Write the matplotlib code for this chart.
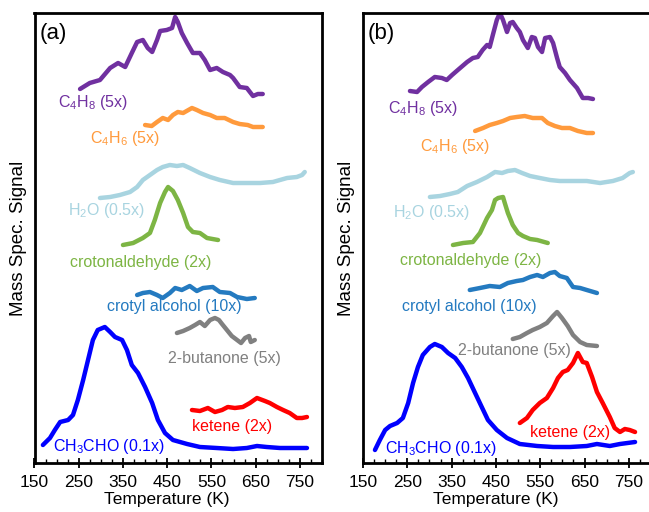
import matplotlib
matplotlib.use("Agg")
import matplotlib.pyplot as plt
from matplotlib.ticker import MultipleLocator

plt.rcParams['font.family'] = ['Liberation Sans', 'DejaVu Sans']
plt.rcParams['mathtext.fontset'] = 'custom'
plt.rcParams['mathtext.rm'] = 'Liberation Sans'

x_ticks = [150, 250, 350, 450, 550, 650, 750]

# ---- panel (a) : temperature (K) / signal (arb. units, offset) ----
a_c4h8_T = [253, 275, 298, 321, 339, 355, 370, 382, 395, 406, 416, 427, 434, 449, 461, 468, 474, 483,
            495, 508, 524, 535, 547, 562, 576, 592, 599, 614, 630, 644, 655, 666]
a_c4h8_s = [374, 380, 383, 395, 400, 396, 410, 421, 423, 415, 411, 423, 432, 433, 435, 446, 441, 430,
            420, 410, 410, 403, 393, 395, 391, 388, 385, 376, 375, 367, 369, 369]
a_c4h6_T = [400, 415, 427, 440, 452, 463, 474, 486, 506, 517, 531, 547, 562, 580, 599, 614, 632, 644, 666]
a_c4h6_s = [338, 337, 341, 345, 343, 348, 351, 350, 355, 353, 350, 348, 345, 345, 341, 339, 338, 336, 336]
a_h2o_T = [298, 321, 343, 366, 382, 395, 411, 427, 440, 456, 472, 486, 501, 524, 547, 569, 599, 630,
           660, 689, 721, 743, 755, 761]
a_h2o_s = [265, 266, 268, 271, 276, 283, 288, 293, 296, 298, 297, 298, 295, 290, 286, 283, 280, 280,
           280, 281, 285, 286, 288, 291]
a_croton_T = [350, 373, 395, 411, 422, 434, 445, 452, 463, 474, 486, 497, 508, 524, 540, 565]
a_croton_s = [218, 220, 225, 230, 243, 260, 271, 276, 272, 263, 250, 236, 231, 230, 225, 223]
a_crotyl_T = [382, 395, 411, 427, 440, 456, 468, 483, 501, 517, 531, 553, 569, 592, 608, 630, 648]
a_crotyl_s = [168, 170, 171, 168, 165, 170, 175, 173, 177, 172, 175, 176, 171, 170, 166, 164, 165]
a_buta_T = [472, 486, 501, 513, 524, 535, 547, 558, 567, 574, 585, 596, 608, 617, 626, 635, 639, 648]
a_buta_s = [130, 132, 135, 138, 141, 137, 143, 145, 143, 139, 133, 127, 123, 120, 125, 127, 121, 123]
a_ketene_T = [506, 524, 542, 558, 574, 587, 603, 621, 637, 653, 671, 682, 698, 712, 727, 743, 755, 766]
a_ketene_s = [53, 52, 55, 51, 53, 56, 55, 56, 60, 65, 62, 60, 56, 53, 50, 45, 45, 46]
a_ach_T = [169, 185, 196, 208, 226, 237, 248, 260, 271, 282, 293, 309, 321, 332, 348, 359, 370, 384,
           400, 416, 429, 445, 463, 495, 524, 562, 599, 630, 653, 675, 705, 734, 766]
a_ach_s = [18, 25, 33, 41, 43, 48, 63, 83, 103, 123, 133, 136, 131, 126, 123, 113, 98, 90,
           76, 60, 43, 30, 23, 19, 16, 15, 14, 15, 17, 16, 15, 15, 15]

# ---- panel (b) ----
b_c4h8_T = [256, 272, 283, 297, 312, 328, 339, 351, 364, 385, 398, 409, 420, 430, 436, 443, 452, 459,
            466, 475, 482, 488, 497, 504, 511, 522, 531, 538, 545, 554, 561, 572, 579, 588, 594, 606,
            617, 633, 646, 658, 669]
b_c4h8_s = [372, 371, 376, 381, 386, 385, 383, 388, 393, 401, 405, 406, 413, 418, 416, 428, 443, 450,
            443, 431, 440, 441, 435, 431, 423, 415, 426, 425, 416, 411, 425, 426, 420, 405, 396, 390,
            383, 375, 365, 365, 364]
b_c4h6_T = [403, 421, 436, 452, 466, 482, 497, 515, 533, 554, 567, 583, 599, 617, 635, 655, 669]
b_c4h6_s = [332, 335, 338, 340, 342, 345, 346, 347, 345, 345, 340, 337, 335, 335, 332, 330, 330]
b_h2o_T = [301, 324, 346, 364, 385, 407, 430, 448, 464, 477, 493, 509, 527, 549, 572, 594, 624, 655,
           685, 714, 736, 752, 759]
b_h2o_s = [266, 267, 269, 271, 277, 281, 286, 291, 290, 292, 293, 290, 287, 285, 283, 282, 282, 282,
           280, 282, 285, 290, 291]
b_croton_T = [353, 376, 398, 414, 430, 441, 448, 455, 466, 470, 477, 488, 500, 511, 527, 543, 567]
b_croton_s = [218, 220, 221, 230, 245, 253, 263, 265, 266, 260, 250, 238, 230, 227, 224, 223, 220]
b_crotyl_T = [391, 414, 436, 459, 477, 497, 511, 527, 543, 556, 572, 583, 594, 610, 624, 640, 655, 678]
b_crotyl_s = [173, 175, 177, 176, 180, 182, 183, 186, 188, 186, 190, 191, 187, 185, 176, 175, 173, 170]
b_buta_T = [488, 504, 520, 533, 549, 565, 579, 588, 599, 612, 624, 640, 655, 678]
b_buta_s = [124, 126, 130, 133, 136, 140, 147, 151, 145, 137, 128, 121, 118, 117]
b_ketene_T = [504, 520, 533, 549, 565, 579, 590, 601, 612, 624, 635, 646, 655, 667, 678, 691, 707, 718,
              730, 741, 752, 764]
b_ketene_s = [40, 45, 53, 60, 65, 75, 85, 91, 93, 100, 110, 101, 100, 86, 71, 60, 46, 35,
              31, 34, 33, 31]
b_ach_T = [177, 188, 200, 211, 227, 240, 252, 263, 274, 285, 301, 312, 328, 342, 358, 373, 387, 403,
           418, 432, 452, 475, 504, 543, 579, 617, 655, 678, 707, 730, 764]
b_ach_s = [13, 23, 33, 37, 40, 45, 60, 80, 96, 108, 116, 119, 116, 110, 105, 96, 85, 70,
           56, 43, 33, 25, 19, 17, 16, 16, 17, 19, 17, 19, 21]

colors = {'c4h8': '#7030A0', 'c4h6': '#FF9A3C', 'h2o': '#A8D4E0', 'croton': '#7DB544',
          'crotyl': '#247AC0', 'buta': '#808080', 'ketene': '#FF0000', 'ach': '#0000FF'}
names = {'c4h8': r'C$_\mathregular{4}$H$_\mathregular{8}$ (5x)',
         'c4h6': r'C$_\mathregular{4}$H$_\mathregular{6}$ (5x)',
         'h2o': r'H$_\mathregular{2}$O (0.5x)',
         'croton': 'crotonaldehyde (2x)',
         'crotyl': 'crotyl alcohol (10x)',
         'buta': '2-butanone (5x)',
         'ketene': 'ketene (2x)',
         'ach': r'CH$_\mathregular{3}$CHO (0.1x)'}

panels = [
    ('(a)', {'c4h8': (a_c4h8_T, a_c4h8_s), 'c4h6': (a_c4h6_T, a_c4h6_s), 'h2o': (a_h2o_T, a_h2o_s),
             'croton': (a_croton_T, a_croton_s), 'crotyl': (a_crotyl_T, a_crotyl_s),
             'buta': (a_buta_T, a_buta_s), 'ketene': (a_ketene_T, a_ketene_s), 'ach': (a_ach_T, a_ach_s)},
     {'c4h8': (203, 361), 'c4h6': (275, 325), 'h2o': (226, 253), 'croton': (230, 200),
      'crotyl': (314, 156), 'buta': (452, 104), 'ketene': (506, 36), 'ach': (192, 16)}),
    ('(b)', {'c4h8': (b_c4h8_T, b_c4h8_s), 'c4h6': (b_c4h6_T, b_c4h6_s), 'h2o': (b_h2o_T, b_h2o_s),
             'croton': (b_croton_T, b_croton_s), 'crotyl': (b_crotyl_T, b_crotyl_s),
             'buta': (b_buta_T, b_buta_s), 'ketene': (b_ketene_T, b_ketene_s), 'ach': (b_ach_T, b_ach_s)},
     {'c4h8': (206, 355), 'c4h6': (279, 316), 'h2o': (218, 251), 'croton': (233, 203),
      'crotyl': (238, 157), 'buta': (364, 112), 'ketene': (527, 31), 'ach': (200, 14)}),
]

fig = plt.figure(figsize=(6.49, 5.12), dpi=100)
rects = [[34.5 / 649, 49 / 512, 287.5 / 649, 450 / 512],
         [363 / 649, 49 / 512, 288 / 649, 450 / 512]]

for rect, (tag, curves, labpos) in zip(rects, panels):
    ax = fig.add_axes(rect)
    for key, (T, s) in curves.items():
        ax.plot(T, s, color=colors[key], lw=3.2, solid_capstyle='round', solid_joinstyle='round')
        lx, ly = labpos[key]
        ax.text(lx, ly, names[key], color=colors[key], fontsize=11.5, ha='left', va='center')
    ax.text(161, 430, tag, fontsize=16, ha='left', va='center')
    ax.set_xlim(150, 800)
    ax.set_ylim(0, 450)
    ax.set_yticks([])
    ax.set_xticks(x_ticks)
    ax.xaxis.set_minor_locator(MultipleLocator(25))
    ax.tick_params(axis='x', which='major', direction='inout', length=6.5, width=1.3,
                   labelsize=12.5, pad=5.5)
    ax.tick_params(axis='x', which='minor', direction='in', length=3, width=1)
    for sp in ax.spines.values():
        sp.set_linewidth(2)
    ax.set_xlabel('Temperature (K)', fontsize=12.5)
    ax.xaxis.set_label_coords(0.46, -0.065)
    ax.set_ylabel('Mass Spec. Signal', fontsize=13.5)
    ax.yaxis.set_label_coords(-0.027, 0.5)

fig.savefig('out.png', dpi=100)
